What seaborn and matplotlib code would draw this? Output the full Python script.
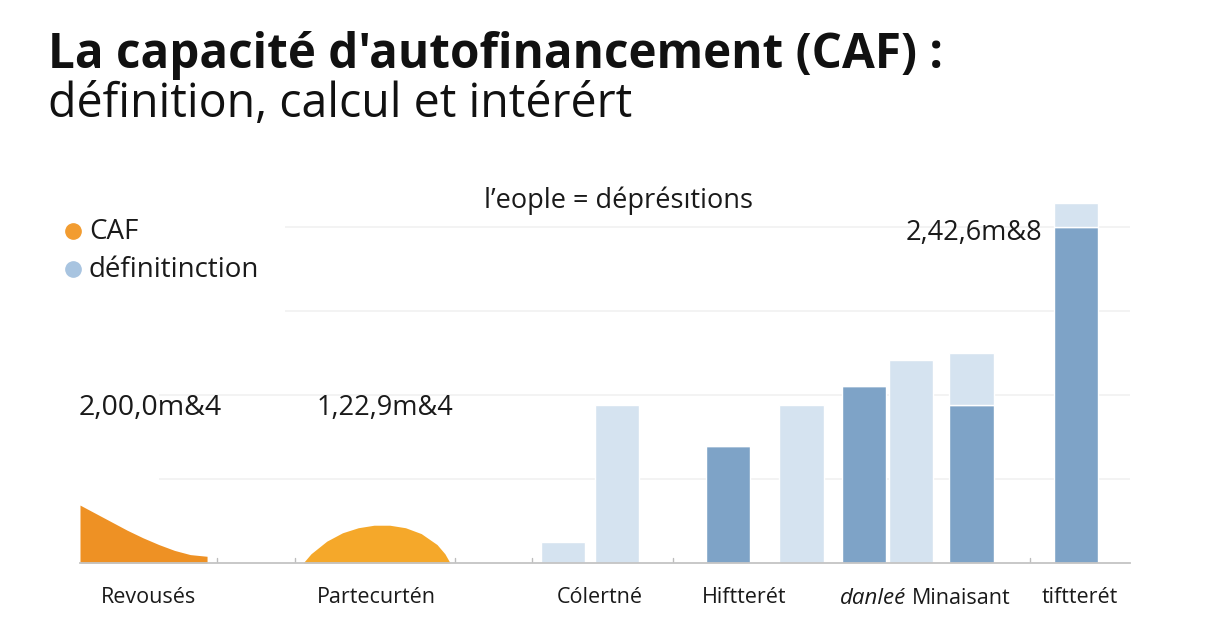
import numpy as np
import pandas as pd
import matplotlib.pyplot as plt
from matplotlib.lines import Line2D
import seaborn as sns

# categories along the axis (tick labels) and where they sit
categories = ['Revousés', 'Partecurtén', 'Cólertné', 'Hiftterét', 'danleé Minaisant', 'tiftterét']
category_pos = [1.3, 5.65, 9.9, 12.65, 15.75, 19.05]

# CAF series, drawn as filled orange shapes
caf1_x = [0.0, 0.3, 0.6, 0.9, 1.2, 1.5, 1.8, 2.1, 2.42]
caf1_y = [0.69, 0.59, 0.49, 0.39, 0.30, 0.22, 0.15, 0.10, 0.08]
caf2_x = [4.25, 4.4, 4.7, 5.0, 5.3, 5.6, 5.9, 6.2, 6.5, 6.8, 6.95, 7.05]
caf2_y = [0.0, 0.11, 0.26, 0.36, 0.42, 0.45, 0.45, 0.42, 0.35, 0.22, 0.11, 0.0]

# dark blue bars and light blue bars (light ones may sit on top of the dark ones)
bar_x = [9.2, 10.23, 12.34, 13.74, 14.93, 15.83, 16.98, 18.97]
dark_vals = [0.0, 0.0, 1.39, 0.0, 2.11, 0.0, 1.88, 4.0]
light_vals = [0.25, 1.88, 0.0, 1.88, 0.0, 2.42, 0.62, 0.29]

value_labels = ['2,00,0m&4', '1,22,9m&4', '2,42,6m&8']
legend_labels = ['CAF', 'définitinction']

ORANGE1 = '#EE9124'
ORANGE2 = '#F5A82A'
DARK = '#7EA3C7'
LIGHT = '#D5E3F0'
TXT = '#1a1a1a'

sns.set_style('white')
plt.rcParams['font.family'] = ['Open Sans', 'DejaVu Sans']

fig = plt.figure(figsize=(12.16, 6.4), dpi=100)
ax = fig.add_axes([80 / 1216, 1 - 563 / 640, 1050 / 1216, 361 / 640])

df = pd.DataFrame({'x': bar_x, 'dark': dark_vals, 'light': light_vals})

# faint grid lines
for g in [1, 2, 3, 4]:
    ax.hlines(g, 3.9 if g > 2 else 1.5, 20, color='#F1F1F1', lw=1.2, zorder=0)

ax.fill_between(caf1_x, 0, caf1_y, color=ORANGE1, lw=0, zorder=2)
ax.fill_between(caf2_x, 0, caf2_y, color=ORANGE2, lw=0, zorder=2)

ax.bar(df['x'], df['dark'], width=0.85, color=DARK, zorder=2)
ax.bar(df['x'], df['light'], width=0.85, bottom=df['dark'], color=LIGHT, zorder=2)

ax.set_xlim(0, 20)
ax.set_ylim(0, 4.3)
sns.despine(ax=ax, left=True)
ax.spines['bottom'].set_color('#C4C4C4')
ax.spines['bottom'].set_linewidth(1.3)
ax.set_yticks([])

# tick labels; the 5th one is half italic, so it is drawn by hand
ax.set_xticks(category_pos)
ticklabels = list(categories)
ticklabels[4] = ''
ax.set_xticklabels(ticklabels, fontsize=15.5, color=TXT)
ax.tick_params(axis='x', length=0, pad=17)
part1, part2 = categories[4].split(' ')
tr = ax.get_xaxis_transform()
ax.text(category_pos[4] - 0.02, -0.113, part1, transform=tr, ha='right', va='baseline',
        fontsize=16, style='italic', color=TXT)
ax.text(category_pos[4] + 0.1, -0.113, part2, transform=tr, ha='left', va='baseline',
        fontsize=15.5, color=TXT)

# little tick marks on the baseline
for t in [2.6, 4.1, 7.15, 8.6, 11.3, 14.1, 18.1]:
    ax.plot([t, t], [0, 0.06], color='#BDBDBD', lw=1, zorder=1)

ax.text(-0.03, 1.76, value_labels[0], ha='left', va='baseline', fontsize=20.5, color=TXT)
ax.text(4.5, 1.76, value_labels[1], ha='left', va='baseline', fontsize=19.5, color=TXT)
ax.text(18.32, 3.85, value_labels[2], ha='right', va='baseline', fontsize=19.5, color=TXT)

# chart subtitle
fig.text(619 / 1216, 1 - 208 / 640, "l’eople = déprésıtions", ha='center', va='baseline',
         fontsize=19.5, color=TXT)

# legend drawn by hand: dot + label
for (lab, dot_col, yy) in zip(legend_labels, ['#F29C30', '#A8C4E0'], [231, 269]):
    fig.add_artist(Line2D([73 / 1216], [1 - yy / 640], marker='o', ls='', color=dot_col,
                          markersize=11, transform=fig.transFigure))
    fig.text(89 / 1216, 1 - (yy + 1) / 640, lab, ha='left', va='center', fontsize=20, color=TXT)

fig.text(48 / 1216, 1 - 68 / 640, "La capacité d'autofinancement (CAF) :",
         fontsize=34.3, fontweight='bold', va='baseline', color='#111111')
fig.text(48 / 1216, 1 - 117 / 640, 'définition, calcul et intérért',
         fontsize=33.5, va='baseline', color='#111111')

fig.savefig('out.png', dpi=100, facecolor='white')
